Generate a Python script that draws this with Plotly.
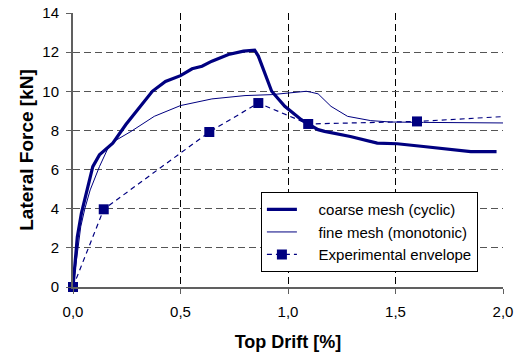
import plotly.graph_objects as go

# Coarse mesh (cyclic)
coarse_x = [0, 0.01, 0.02, 0.039, 0.065, 0.092, 0.123, 0.185, 0.246, 0.30, 0.369, 0.43, 0.5,
            0.554, 0.6, 0.646, 0.723, 0.793, 0.845, 0.862, 0.893, 0.924, 0.985, 1.062, 1.093,
            1.14, 1.17, 1.29, 1.415, 1.508, 1.63, 1.755, 1.85, 1.97]
coarse_y = [0, 1.4, 2.56, 3.76, 5.0, 6.15, 6.75, 7.35, 8.3, 9.05, 10.0, 10.5, 10.8,
            11.15, 11.28, 11.54, 11.88, 12.05, 12.1, 11.8, 10.94, 10.0, 9.23, 8.55, 8.34,
            8.04, 7.95, 7.69, 7.35, 7.32, 7.18, 7.01, 6.92, 6.92]

# Fine mesh (monotonic)
fine_x = [0, 0.015, 0.036, 0.055, 0.08, 0.123, 0.163, 0.2, 0.27, 0.378, 0.5, 0.646, 0.8,
          0.925, 1.0, 1.085, 1.108, 1.14, 1.2, 1.277, 1.385, 1.477, 1.63, 1.847, 2.02]
fine_y = [0, 1.2, 3.08, 4.0, 4.96, 6.15, 7.1, 7.5, 7.95, 8.72, 9.27, 9.61, 9.78,
          9.83, 9.92, 10.0, 9.95, 9.87, 9.23, 8.72, 8.5, 8.43, 8.41, 8.38, 8.38]

# Experimental envelope
exp_x = [0, 0.143, 0.634, 0.862, 1.094, 1.6, 2.2]
exp_y = [0, 3.97, 7.92, 9.4, 8.33, 8.46, 8.83]

x_ticks = [0, 0.5, 1.0, 1.5, 2.0]
y_ticks = [0, 2, 4, 6, 8, 10, 12, 14]

series_names = ["coarse mesh (cyclic)", "fine mesh (monotonic)", "Experimental envelope"]

NAVY = "#000080"
FONT = "Liberation Sans, Arial, sans-serif"
PAD = "\u00a0" * 4

fig = go.Figure()
fig.add_trace(go.Scatter(x=coarse_x, y=coarse_y, mode="lines", name=PAD + series_names[0],
                         line=dict(color=NAVY, width=3.2), legendgroup="a"))
fig.add_trace(go.Scatter(x=fine_x, y=fine_y, mode="lines", name=PAD + series_names[1],
                         line=dict(color=NAVY, width=1), legendgroup="b"))
fig.add_trace(go.Scatter(x=exp_x, y=exp_y, mode="lines+markers", name=PAD + series_names[2],
                         line=dict(color=NAVY, width=1.2, dash="5px,4px"),
                         marker=dict(symbol="square", size=10, color=NAVY),
                         cliponaxis=False, legendgroup="c"))

fig.update_layout(
    width=515, height=358,
    margin=dict(l=73, r=12, t=13, b=71, autoexpand=False),
    paper_bgcolor="white", plot_bgcolor="white",
    font=dict(family=FONT, size=15, color="black"),
    separators=", ",
    showlegend=True,
    legend=dict(x=0.437, y=0.346, xanchor="left", yanchor="top",
                bgcolor="white", bordercolor="black", borderwidth=1,
                font=dict(size=15), traceorder="normal"),
    xaxis=dict(range=[0, 2], tickvals=x_ticks, tickformat=".1f", automargin=False,
               showgrid=True, gridcolor="black", gridwidth=1, griddash="7px,4px",
               showline=True, linecolor="#606060", linewidth=2,
               ticks="outside", ticklen=5, tickcolor="#606060",
               ticklabelstandoff=5, zeroline=False,
               title=dict(text="<b>Top Drift [%]</b>", font=dict(size=18), standoff=16)),
    yaxis=dict(range=[0, 14], tickvals=y_ticks, automargin=False,
               showgrid=True, gridcolor="#555555", gridwidth=1, griddash="7px,4px",
               showline=True, linecolor="#606060", linewidth=2,
               ticks="outside", ticklen=5, tickcolor="#606060",
               ticklabelstandoff=4, zeroline=False,
               title=dict(text="<b>Lateral Force [kN]</b>", font=dict(size=19), standoff=4)),
)

fig.write_html("out.html")
